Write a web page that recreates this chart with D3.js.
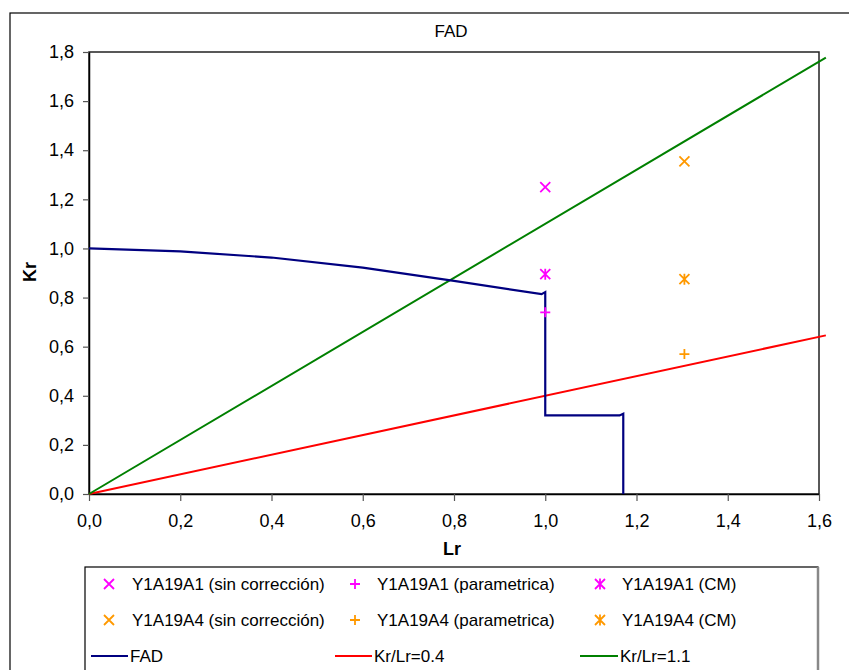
<!DOCTYPE html>
<html>
<head>
<meta charset="utf-8">
<script src="https://cdn.jsdelivr.net/npm/d3@7"></script>
<style>
  body { margin: 0; background: #fff; }
  svg { display: block; font-family: "Liberation Sans", Arial, sans-serif; }
</style>
</head>
<body>
<div id="chart"></div>
<script>
// FAD curve (Lr, Kr)
const fadLr = [0, 0.2, 0.4, 0.6, 0.8, 0.992, 1.0, 1.0, 1.163, 1.171, 1.171];
const fadKr = [1.0, 0.988, 0.963, 0.922, 0.868, 0.814, 0.822, 0.32, 0.32, 0.327, 0];

// reference lines Kr/Lr
const line04Lr = [0, 1.615];
const line04Kr = [0, 0.646];
const line11Lr = [0, 1.615];
const line11Kr = [0, 1.777];

// assessment points
const seriesNames = [
    "Y1A19A1 (sin corrección)", "Y1A19A1 (parametrica)", "Y1A19A1 (CM)",
    "Y1A19A4 (sin corrección)", "Y1A19A4 (parametrica)", "Y1A19A4 (CM)"
];
const seriesSymbols = ["x", "+", "star", "x", "+", "star"];
const seriesColors = ["#ff00ff", "#ff00ff", "#ff00ff", "#ff9900", "#ff9900", "#ff9900"];
const seriesLr = [1.0, 1.0, 1.0, 1.305, 1.305, 1.305];
const seriesKr = [1.25, 0.74, 0.895, 1.355, 0.57, 0.875];

const xTicks = [0, 0.2, 0.4, 0.6, 0.8, 1.0, 1.2, 1.4, 1.6];
const yTicks = [0, 0.2, 0.4, 0.6, 0.8, 1.0, 1.2, 1.4, 1.6, 1.8];

const width = 849, height = 670;
const plot = { left: 89, top: 52, right: 819, bottom: 494 };

const svg = d3.select("#chart").append("svg")
    .attr("width", width)
    .attr("height", height);

const x = d3.scaleLinear().domain([0, 1.6]).range([plot.left, plot.right]);
const y = d3.scaleLinear().domain([0, 1.8]).range([plot.bottom, plot.top]);

const comma = d => d3.format(".1f")(d).replace(".", ",");

// outer chart frame (extends past the picture)
svg.append("rect")
    .attr("x", 10).attr("y", 13)
    .attr("width", 900).attr("height", 700)
    .attr("fill", "none").attr("stroke", "#000").attr("stroke-width", 1.2);

// title
svg.append("text")
    .attr("x", 451).attr("y", 37)
    .attr("text-anchor", "middle")
    .attr("font-size", 17)
    .text("FAD");

// plot area border
svg.append("rect")
    .attr("x", plot.left).attr("y", plot.top)
    .attr("width", plot.right - plot.left).attr("height", plot.bottom - plot.top)
    .attr("fill", "none").attr("stroke", "#222").attr("stroke-width", 1.5);

// axes
const xAxis = svg.append("g")
    .attr("transform", `translate(0,${plot.bottom})`)
    .call(d3.axisBottom(x).tickValues(xTicks).tickFormat(comma).tickSize(7).tickSizeOuter(0));
xAxis.select(".domain").attr("stroke", "#000").attr("stroke-width", 1.5);
xAxis.selectAll(".tick line").attr("stroke", "#555").attr("stroke-width", 1.2);
xAxis.selectAll(".tick text")
    .attr("font-size", 18).attr("fill", "#000")
    .attr("font-family", "Liberation Sans, Arial, sans-serif")
    .attr("y", 20).attr("dy", "0.71em");

const yAxis = svg.append("g")
    .attr("transform", `translate(${plot.left},0)`)
    .call(d3.axisLeft(y).tickValues(yTicks).tickFormat(comma).tickSize(6).tickSizeOuter(0));
yAxis.select(".domain").attr("stroke", "#000").attr("stroke-width", 1.5);
yAxis.selectAll(".tick line").attr("stroke", "#555").attr("stroke-width", 1.2);
yAxis.selectAll(".tick text")
    .attr("font-size", 18).attr("fill", "#000")
    .attr("font-family", "Liberation Sans, Arial, sans-serif")
    .attr("x", -15);

// axis titles
svg.append("text")
    .attr("x", 452).attr("y", 555)
    .attr("text-anchor", "middle")
    .attr("font-size", 18).attr("font-weight", "bold")
    .text("Lr");

svg.append("text")
    .attr("transform", "translate(36,272) rotate(-90)")
    .attr("text-anchor", "middle")
    .attr("font-size", 18).attr("font-weight", "bold")
    .text("Kr");

const line = d3.line().x(d => x(d[0])).y(d => y(d[1]));

// reference lines
svg.append("path")
    .datum(line04Lr.map((v, i) => [v, line04Kr[i]]))
    .attr("d", line).attr("fill", "none")
    .attr("stroke", "#ff0000").attr("stroke-width", 2);

svg.append("path")
    .datum(line11Lr.map((v, i) => [v, line11Kr[i]]))
    .attr("d", line).attr("fill", "none")
    .attr("stroke", "#008000").attr("stroke-width", 2);

// FAD curve
svg.append("path")
    .datum(fadLr.map((v, i) => [v, fadKr[i]]))
    .attr("d", line).attr("fill", "none")
    .attr("stroke", "#000080").attr("stroke-width", 2.2);

// marker shapes
function markerPath(sym, r) {
    const p = d3.path();
    if (sym === "x" || sym === "star") {
        p.moveTo(-r, -r); p.lineTo(r, r);
        p.moveTo(-r, r); p.lineTo(r, -r);
    }
    if (sym === "+") {
        p.moveTo(-r, 0); p.lineTo(r, 0);
        p.moveTo(0, -r); p.lineTo(0, r);
    }
    if (sym === "star") {
        p.moveTo(0, -r - 0.5); p.lineTo(0, r + 0.5);
    }
    return p.toString();
}

const points = seriesNames.map((name, i) => ({
    name: name, sym: seriesSymbols[i], color: seriesColors[i],
    lr: seriesLr[i], kr: seriesKr[i]
}));

svg.selectAll(".pt")
    .data(points)
    .enter()
    .append("path")
    .attr("class", "pt")
    .attr("transform", d => `translate(${x(d.lr)},${y(d.kr)})`)
    .attr("d", d => markerPath(d.sym, 5))
    .attr("fill", "none")
    .attr("stroke", d => d.color)
    .attr("stroke-width", 1.8);

// legend
const legend = svg.append("g");
legend.append("rect")
    .attr("x", 85).attr("y", 567)
    .attr("width", 733).attr("height", 120)
    .attr("fill", "#fff").attr("stroke", "#000").attr("stroke-width", 1.2);
legend.append("line")
    .attr("x1", 818).attr("y1", 567).attr("x2", 818).attr("y2", 670)
    .attr("stroke", "#888").attr("stroke-width", 2.5);

const colMarker = [109, 355, 600];
const colText = [132, 377, 622];
const rowY = [584, 620, 656];

points.forEach((d, i) => {
    const row = Math.floor(i / 3), col = i % 3;
    legend.append("path")
        .attr("transform", `translate(${colMarker[col]},${rowY[row]})`)
        .attr("d", markerPath(d.sym, 5))
        .attr("fill", "none")
        .attr("stroke", d.color)
        .attr("stroke-width", 1.8);
    legend.append("text")
        .attr("x", colText[col]).attr("y", rowY[row] + 6)
        .attr("font-size", 17)
        .text(d.name);
});

const lineItems = [
    { name: "FAD", color: "#000080", x1: 91, x2: 128 },
    { name: "Kr/Lr=0.4", color: "#ff0000", x1: 335, x2: 372 },
    { name: "Kr/Lr=1.1", color: "#008000", x1: 580, x2: 618 }
];
lineItems.forEach((d, i) => {
    legend.append("line")
        .attr("x1", d.x1).attr("x2", d.x2)
        .attr("y1", rowY[2]).attr("y2", rowY[2])
        .attr("stroke", d.color).attr("stroke-width", 2);
    legend.append("text")
        .attr("x", d.x2 + 2).attr("y", rowY[2] + 6)
        .attr("font-size", 17)
        .text(d.name);
});
</script>
</body>
</html>
